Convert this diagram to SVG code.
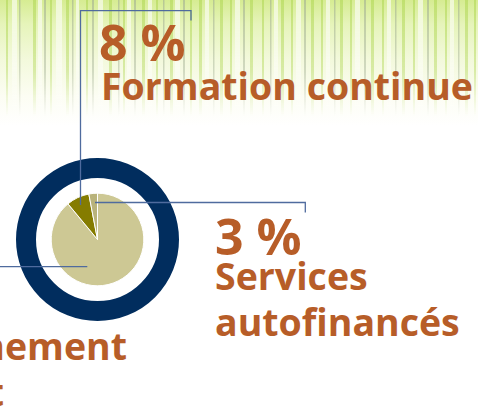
<svg xmlns="http://www.w3.org/2000/svg" width="478" height="406" viewBox="0 0 478 406">
<defs>
<linearGradient id="bg" x1="0" y1="0" x2="0" y2="1">
<stop offset="0" stop-color="#d6ec92"/>
<stop offset="0.08" stop-color="#e6f4ba"/>
<stop offset="0.2" stop-color="#f3f9dc"/>
<stop offset="0.32" stop-color="#fcfdf3"/>
<stop offset="0.42" stop-color="#ffffff"/>
</linearGradient>
<linearGradient id="fade" x1="0" y1="0" x2="0" y2="1">
<stop offset="0" stop-color="#fff" stop-opacity="1"/>
<stop offset="0.6" stop-color="#fff" stop-opacity="0.75"/>
<stop offset="1" stop-color="#fff" stop-opacity="0"/>
</linearGradient>
<mask id="m" maskUnits="userSpaceOnUse" x="0" y="0" width="478" height="120">
<rect x="0" y="0" width="478" height="116" fill="url(#fade)"/>
</mask>
<style>
.lbl{font-family:"Open Sans","Noto Sans","DejaVu Sans",sans-serif;font-weight:bold;fill:#b75d28}
.pct{font-size:50px}
.txt{font-size:37.5px}
.lead{fill:none;stroke:#4f6b9e;stroke-width:1.3}
.g{fill:#b2d858}
.d{fill:#a3b094}
.w{fill:#ffffff}
</style>
</defs>
<rect width="478" height="406" fill="#ffffff"/>
<rect width="478" height="300" fill="url(#bg)"/>
<g mask="url(#m)" opacity="0.6">
<rect class="g" x="6" y="0" width="2" height="116"/>
<rect class="w" x="12" y="0" width="5" height="116"/>
<rect class="d" x="19" y="0" width="1.5" height="116"/>
<rect class="g" x="33" y="0" width="3" height="116"/>
<rect class="w" x="38" y="0" width="4" height="116"/>
<rect class="d" x="44" y="0" width="2" height="116"/>
<rect class="g" x="50" y="0" width="2" height="116"/>
<rect class="w" x="56" y="0" width="6" height="116"/>
<rect class="g" x="66" y="0" width="3" height="116"/>
<rect class="d" x="72" y="0" width="1.5" height="116"/>
<rect class="w" x="76" y="0" width="3" height="116"/>
<rect class="g" x="86" y="0" width="2" height="116"/>
<rect class="d" x="92" y="0" width="2" height="116"/>
<rect class="w" x="98" y="0" width="5" height="116"/>
<rect class="g" x="109" y="0" width="3" height="116"/>
<rect class="d" x="118" y="0" width="1.5" height="116"/>
<rect class="g" x="123" y="0" width="2" height="116"/>
<rect class="w" x="127" y="0" width="4" height="116"/>
<rect class="d" x="134" y="0" width="2" height="116"/>
<rect class="g" x="142" y="0" width="3" height="116"/>
<rect class="w" x="148" y="0" width="4" height="116"/>
<rect class="g" x="156" y="0" width="2" height="116"/>
<rect class="d" x="163" y="0" width="1.5" height="116"/>
<rect class="g" x="170" y="0" width="3" height="116"/>
<rect class="w" x="175" y="0" width="5" height="116"/>
<rect class="d" x="183" y="0" width="2" height="116"/>
<rect class="g" x="190" y="0" width="2" height="116"/>
<rect class="g" x="199" y="0" width="3" height="116"/>
<rect class="w" x="205" y="0" width="4" height="116"/>
<rect class="d" x="213" y="0" width="1.5" height="116"/>
<rect class="g" x="220" y="0" width="3" height="116"/>
<rect class="g" x="230" y="0" width="2" height="116"/>
<rect class="w" x="235" y="0" width="5" height="116"/>
<rect class="d" x="243" y="0" width="2" height="116"/>
<rect class="g" x="250" y="0" width="3" height="116"/>
<rect class="g" x="262" y="0" width="2" height="116"/>
<rect class="d" x="270" y="0" width="1.5" height="116"/>
<rect class="w" x="274" y="0" width="4" height="116"/>
<rect class="g" x="281" y="0" width="3" height="116"/>
<rect class="g" x="291" y="0" width="2" height="116"/>
<rect class="w" x="296" y="0" width="5" height="116"/>
<rect class="d" x="304" y="0" width="2" height="116"/>
<rect class="g" x="311" y="0" width="3" height="116"/>
<rect class="g" x="321" y="0" width="2" height="116"/>
<rect class="w" x="326" y="0" width="4" height="116"/>
<rect class="d" x="334" y="0" width="1.5" height="116"/>
<rect class="g" x="340" y="0" width="3" height="116"/>
<rect class="g" x="350" y="0" width="2" height="116"/>
<rect class="w" x="355" y="0" width="5" height="116"/>
<rect class="d" x="364" y="0" width="2" height="116"/>
<rect class="g" x="371" y="0" width="3" height="116"/>
<rect class="g" x="382" y="0" width="2" height="116"/>
<rect class="w" x="387" y="0" width="4" height="116"/>
<rect class="d" x="395" y="0" width="1.5" height="116"/>
<rect class="g" x="402" y="0" width="3" height="116"/>
<rect class="g" x="413" y="0" width="2" height="116"/>
<rect class="w" x="418" y="0" width="5" height="116"/>
<rect class="d" x="427" y="0" width="2" height="116"/>
<rect class="g" x="434" y="0" width="3" height="116"/>
<rect class="g" x="445" y="0" width="2" height="116"/>
<rect class="w" x="450" y="0" width="4" height="116"/>
<rect class="d" x="458" y="0" width="1.5" height="116"/>
<rect class="g" x="465" y="0" width="3" height="116"/>
<rect class="g" x="474" y="0" width="2" height="116"/>
</g>

<g id="chart">
<circle cx="97.5" cy="239.5" r="71.5" fill="none" stroke="#012d5e" stroke-width="20"/>
<path d="M97.5,239.5 L97.5,193.2 A46.3,46.3 0 1 1 67.99,203.83 Z" fill="#cdc894" stroke="#ffffff" stroke-width="1"/>
<path d="M97.5,239.5 L67.99,203.83 A46.3,46.3 0 0 1 88.82,194.02 Z" fill="#857c00" stroke="#ffffff" stroke-width="1"/>
<path d="M97.5,239.5 L88.82,194.02 A46.3,46.3 0 0 1 97.5,193.2 Z" fill="#b9b37b" stroke="#ffffff" stroke-width="1"/>
</g>

<g id="connectors">
<path class="lead" d="M80.5,205 V10.7 H191 V20.5"/>
<path class="lead" d="M95,202.5 H305.3 V212.5"/>
<path class="lead" d="M0,266.7 H87.3"/>
</g>

<g id="label-formation">
<text class="lbl pct" x="99" y="61">8 %</text>
<text class="lbl txt" x="101" y="100">Formation continue</text>
</g>

<g id="label-services">
<text class="lbl pct" x="215" y="255">3 %</text>
<text class="lbl txt" x="215" y="290">Services</text>
<text class="lbl txt" x="215" y="336">autofinancés</text>
</g>

<g id="label-enseignement">
<text class="lbl txt" x="127" y="360" text-anchor="end">Enseignement</text>
<text class="lbl txt" x="4" y="406" text-anchor="end">t</text>
</g>
</svg>
